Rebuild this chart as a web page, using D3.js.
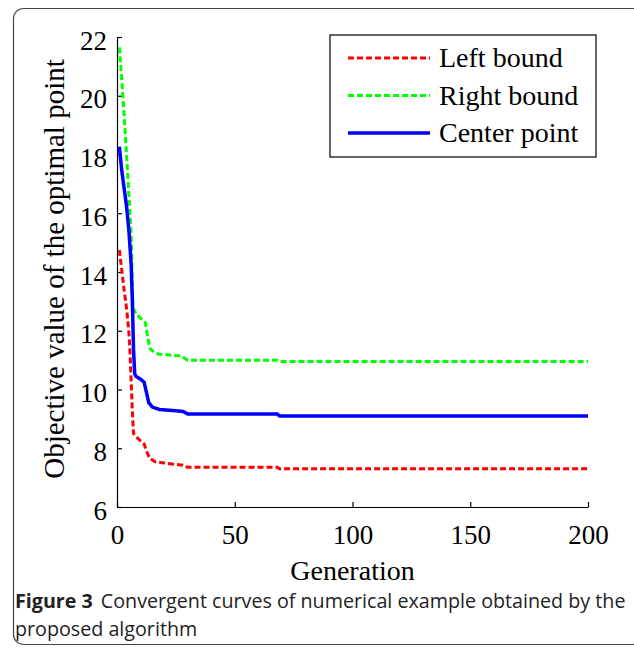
<!DOCTYPE html>
<meta charset="utf-8">
<style>
body { margin: 0; background: #fff; }
.tick text { font-family: "Liberation Serif", serif; font-size: 27px; fill: #000; }
.domain, .tick line { stroke: #000; stroke-width: 1.2px; }
.line { fill: none; }
</style>
<body>
<script src="https://d3js.org/d3.v7.min.js"></script>
<script>

// data
var leftGen  = [1, 2, 3, 4, 5, 5.5, 6, 6.5, 7, 8, 10, 11.5, 12.5, 14, 16, 20, 25, 28, 30, 68, 69, 200];
var leftVal  = [14.75, 14.08, 13.4, 12.8, 12.0, 11.3, 10.3, 9.3, 8.5, 8.4, 8.25, 8.15, 7.9, 7.65, 7.55, 7.5, 7.45, 7.42, 7.35, 7.35, 7.3, 7.3];
var rightGen = [1, 2, 3, 4, 5, 6, 6.8, 8, 10, 12, 13, 14, 16, 18, 20, 25, 27, 29, 30, 68, 69, 200];
var rightVal = [21.65, 20.57, 19.37, 18.07, 16.67, 15.27, 12.78, 12.58, 12.43, 12.28, 11.8, 11.4, 11.25, 11.2, 11.2, 11.15, 11.15, 11.05, 11.0, 11.0, 10.95, 10.95];
var centerGen = [1, 2, 3, 4, 5, 6, 6.5, 7, 7.5, 8, 10, 11.5, 12.5, 13.5, 15, 18, 25, 28, 30, 68, 69, 200];
var centerVal = [18.27, 17.47, 16.87, 16.27, 15.47, 14.27, 13.07, 11.4, 10.55, 10.45, 10.35, 10.25, 9.9, 9.55, 9.4, 9.32, 9.28, 9.25, 9.17, 9.17, 9.1, 9.1];

var xTicks = [0, 50, 100, 150, 200];
var yTicks = [6, 8, 10, 12, 14, 16, 18, 20, 22];

var series = [
  {name: "Left bound",   gen: leftGen,   val: leftVal,   color: "#ff0000", dash: "6,3"},
  {name: "Right bound",  gen: rightGen,  val: rightVal,  color: "#00ff00", dash: "6,3"},
  {name: "Center point", gen: centerGen, val: centerVal, color: "#0000ff", dash: null}
];

var W = 634, H = 649;
var svg = d3.select("body").append("svg")
    .attr("width", W)
    .attr("height", H);

// rounded frame round the figure
svg.append("rect")
    .attr("x", 13.5).attr("y", 8.5)
    .attr("width", 660).attr("height", 636)
    .attr("rx", 10)
    .attr("fill", "none")
    .attr("stroke", "#444")
    .attr("stroke-width", 1.2);

var x = d3.scaleLinear().domain([0, 200]).range([117, 588]);
var y = d3.scaleLinear().domain([6, 22]).range([507, 37]);

// axes, ticks pointing inward
svg.append("g")
    .attr("transform", "translate(0,507)")
    .call(d3.axisBottom(x).tickValues(xTicks).tickSizeInner(-5).tickSizeOuter(0).tickPadding(13))
    .selectAll("text").attr("dy", "0.9em");

svg.append("g")
    .attr("transform", "translate(117,0)")
    .call(d3.axisLeft(y).tickValues(yTicks).tickSizeInner(-5).tickSizeOuter(0).tickPadding(10))
    .selectAll("text").attr("dy", "0.45em");

// axis titles
svg.append("text")
    .attr("x", x(100)).attr("y", 580)
    .attr("text-anchor", "middle")
    .style("font-family", "Liberation Serif, serif")
    .style("font-size", "28px")
    .text("Generation");

svg.append("text")
    .attr("transform", "translate(64," + 269 + ") rotate(-90)")
    .attr("text-anchor", "middle")
    .style("font-family", "Liberation Serif, serif")
    .style("font-size", "29px")
    .text("Objective value of the optimal point");

// lines
var line = d3.line()
    .x(function(d) { return x(d[0]); })
    .y(function(d) { return y(d[1]); });

series.forEach(function(s) {
  var pts = s.gen.map(function(g, i) { return [g, s.val[i]]; });
  svg.append("path")
      .datum(pts)
      .attr("class", "line")
      .attr("stroke", s.color)
      .attr("stroke-width", s.dash ? 3 : 3.5)
      .attr("stroke-dasharray", s.dash)
      .attr("d", line);
});

// legend
var lg = svg.append("g");
lg.append("rect")
    .attr("x", 330).attr("y", 35)
    .attr("width", 266).attr("height", 122)
    .attr("fill", "#fff")
    .attr("stroke", "#000")
    .attr("stroke-width", 1.2);

series.forEach(function(s, i) {
  var ly = 58 + i * 37.5;
  lg.append("line")
      .attr("x1", 348).attr("x2", 430)
      .attr("y1", ly).attr("y2", ly)
      .attr("stroke", s.color)
      .attr("stroke-width", s.dash ? 3 : 3.5)
      .attr("stroke-dasharray", s.dash);
  lg.append("text")
      .attr("x", 439).attr("y", ly + 9)
      .style("font-family", "Liberation Serif, serif")
      .style("font-size", "28px")
      .text(s.name);
});

// caption
var cap = svg.append("text")
    .attr("x", 15).attr("y", 608)
    .style("font-family", "Open Sans, sans-serif")
    .style("font-size", "19.7px")
    .attr("fill", "#222");
cap.append("tspan").style("font-weight", "bold").text("Figure 3");
cap.append("tspan").attr("dx", 8).text("Convergent curves of numerical example obtained by the");
svg.append("text")
    .attr("x", 15).attr("y", 636)
    .style("font-family", "Open Sans, sans-serif")
    .style("font-size", "19.7px")
    .attr("fill", "#222")
    .text("proposed algorithm");

</script>
</body>
